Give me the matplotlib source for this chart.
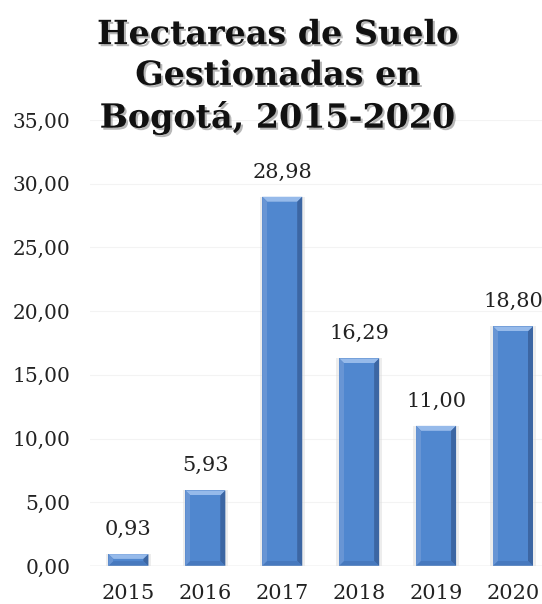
import matplotlib
matplotlib.use("Agg")
import matplotlib.pyplot as plt
import matplotlib.patheffects as pe
from matplotlib.patches import Polygon

years = ["2015", "2016", "2017", "2018", "2019", "2020"]
values = [0.93, 5.93, 28.98, 16.29, 11.00, 18.80]
yticks = [0, 5, 10, 15, 20, 25, 30, 35]
title = "Hectareas de Suelo\nGestionadas en\nBogotá, 2015-2020"

def fmt(v):
    return f"{v:.2f}".replace(".", ",")

fig = plt.figure(figsize=(5.42, 6.04), dpi=100)
ax = fig.add_axes([0.166, 0.0629, 0.834, 0.7384])
x = list(range(len(years)))
W = 0.52
ax.set_xlim(-0.5, 5.377)
ax.set_ylim(0, 35)

# soft shadow
ax.bar(x, values, width=W + 0.07, color="#D9D9D9", alpha=0.45, linewidth=0, zorder=2)
ax.bar(x, values, width=W, color="#4C80C6", edgecolor="none", zorder=3)

# bevel in pixel-sized units
fig.canvas.draw()
px = 1.0 / (ax.transData.transform((1, 0))[0] - ax.transData.transform((0, 0))[0])
py = 1.0 / (ax.transData.transform((0, 1))[1] - ax.transData.transform((0, 0))[1])
bx, by = 5 * px, 5 * py
for xi, v in zip(x, values):
    l, r = xi - W / 2, xi + W / 2
    b, t = 0, v
    byy = min(by, v / 2.5)
    ax.add_patch(Polygon([(l, t), (r, t), (r - bx, t - byy), (l + bx, t - byy)], closed=True,
                         facecolor="#96BAEA", edgecolor="none", zorder=4))
    ax.add_patch(Polygon([(l, b), (l, t), (l + bx, t - byy), (l + bx, b + byy)], closed=True,
                         facecolor="#6895D4", edgecolor="none", zorder=4))
    ax.add_patch(Polygon([(r, b), (r, t), (r - bx, t - byy), (r - bx, b + byy)], closed=True,
                         facecolor="#3C66A3", edgecolor="none", zorder=4))
    ax.add_patch(Polygon([(l, b), (r, b), (r - bx, b + byy), (l + bx, b + byy)], closed=True,
                         facecolor="#4779BE", edgecolor="none", zorder=4))
    ax.add_patch(Polygon([(l + bx, b + byy), (r - bx, b + byy), (r - bx, t - byy), (l + bx, t - byy)], closed=True,
                         facecolor="#5087CF", edgecolor="none", zorder=4))

ax.set_yticks(yticks)
ax.set_yticklabels([fmt(t) for t in yticks], family="DejaVu Serif", fontsize=14.5, color="#222222")
ax.set_xticks(x)
ax.set_xticklabels(years, family="DejaVu Serif", fontsize=15, color="#222222")
ax.tick_params(axis="x", length=0, pad=13)
ax.tick_params(axis="y", length=0, pad=14)
for s in ax.spines.values():
    s.set_visible(False)
ax.grid(axis="y", color="#F3F3F3", linewidth=0.8, zorder=0)
ax.axhline(0, color="#DADADA", linewidth=1, zorder=5)
for xi, v in zip(x, values):
    ax.annotate(fmt(v), (xi, v), xytext=(0, 11), textcoords="offset points",
                ha="center", va="bottom", family="DejaVu Serif", fontsize=15, color="#222222")
fig.text(0.513, 0.970, title, ha="center", va="top", family="DejaVu Serif", fontweight="bold",
         fontsize=24, linespacing=1.3, color="#111111",
         path_effects=[pe.withSimplePatchShadow(offset=(1.5, -1.5), shadow_rgbFace="#888888", alpha=0.6)])
fig.savefig("out.png", dpi=100)
